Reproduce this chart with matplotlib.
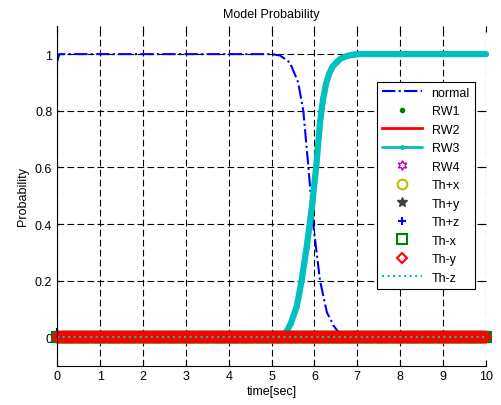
import numpy as np
import matplotlib
matplotlib.use("Agg")
import matplotlib.pyplot as plt

plt.rcParams['font.family'] = ['Liberation Sans', 'DejaVu Sans']
plt.rcParams['font.size'] = 9

# time grid of the simulation output
t = np.linspace(0, 10, 401)

# model probabilities
normal_t = [0, 0.05, 5.0, 5.2, 5.43, 5.62, 5.74, 5.86, 5.97, 6.13, 6.29, 6.45, 6.56, 6.7, 10]
normal_p = [0.975, 1.0, 1.0, 0.995, 0.97, 0.90, 0.80, 0.60, 0.40, 0.20, 0.088, 0.04, 0.018, 0.0, 0.0]

rw3_t = [0, 5.2, 5.35, 5.45, 5.59, 5.7, 5.82, 5.94, 6.04, 6.13, 6.2, 6.27, 6.34, 6.42, 6.52, 6.62, 6.75, 6.9, 7.05, 10]
rw3_p = [0, 0, 0.02, 0.05, 0.11, 0.2, 0.32, 0.46, 0.6, 0.76, 0.84, 0.895, 0.93, 0.955, 0.972, 0.985, 0.993, 0.998, 1.0, 1.0]

# the other models stay at zero the whole time
rw1 = np.zeros(len(t))
rw2 = np.zeros(len(t))
rw4 = np.zeros(len(t))
th_px = np.zeros(len(t))
th_py = np.zeros(len(t))
th_pz = np.zeros(len(t))
th_pz[0] = 0.02
th_mx = np.zeros(len(t))
th_my = np.zeros(len(t))
th_mz = np.zeros(len(t))

cyan = (0, 0.75, 0.75)

fig = plt.figure(figsize=(5.02, 4.06), dpi=100)
ax = fig.add_axes([0.114, 0.097, 0.854, 0.837])

ax.plot(normal_t, normal_p, color='blue', ls='-.', lw=1.5, label='normal')
ax.plot(t, rw1, ls='none', marker='.', color='green', ms=6, label='RW1')
ax.plot(t, rw2, color='red', lw=2, label='RW2')
ax.plot(rw3_t, rw3_p, color=cyan, lw=4.5, marker='.', ms=5,
        solid_capstyle='round', solid_joinstyle='round', clip_on=False, label='RW3')
ax.plot(t, rw4, ls='none', marker=(6, 1, 0), color='m', ms=7, mfc='none', label='RW4')
ax.plot(t, th_px, ls='none', marker='o', color=(0.75, 0.75, 0), ms=7, mfc='none', mew=1.5, label='Th+x')
ax.plot(t, th_py, ls='none', marker='*', color=(0.25, 0.25, 0.25), ms=7, label='Th+y')
ax.plot(t, th_pz, ls='none', marker='+', color='blue', ms=6, mew=1.5, clip_on=False, label='Th+z')
ax.plot(t, th_mx, ls='none', marker='s', color='green', ms=7, mfc='none', mew=1.5, clip_on=False, label='Th-x')
ax.plot(t, th_my, ls='none', marker='D', color='red', ms=5.5, mfc='none', mew=1.5, clip_on=False, label='Th-y')
ax.plot(t, th_mz, color=cyan, ls=':', lw=1.5, label='Th-z')

ax.set_xlim(0, 10)
ax.set_ylim(-0.1, 1.1)
ax.set_xticks(range(0, 11))
ax.set_yticks([0, 0.2, 0.4, 0.6, 0.8, 1])
ax.set_yticklabels(['0', '0.2', '0.4', '0.6', '0.8', '1'])
ax.grid(True, color='black', ls=(0, (6, 3)), lw=0.8)
ax.tick_params(direction='in', length=4, top=True, right=True, colors='black')
ax.spines['top'].set_visible(False)
ax.spines['right'].set_visible(False)

ax.set_title('Model Probability', fontsize=9)
ax.set_xlabel('time[sec]', labelpad=2)
ax.set_ylabel('Probability', labelpad=4)

leg = ax.legend(loc='upper left', bbox_to_anchor=(0.745, 0.835), fancybox=False,
                framealpha=1, edgecolor='black', handlelength=3.2,
                labelspacing=0.52, borderaxespad=0, borderpad=0.4)
leg.get_frame().set_linewidth(0.8)
leg.get_lines()[3].set_linewidth(2)

plt.savefig('out.png', dpi=100)
